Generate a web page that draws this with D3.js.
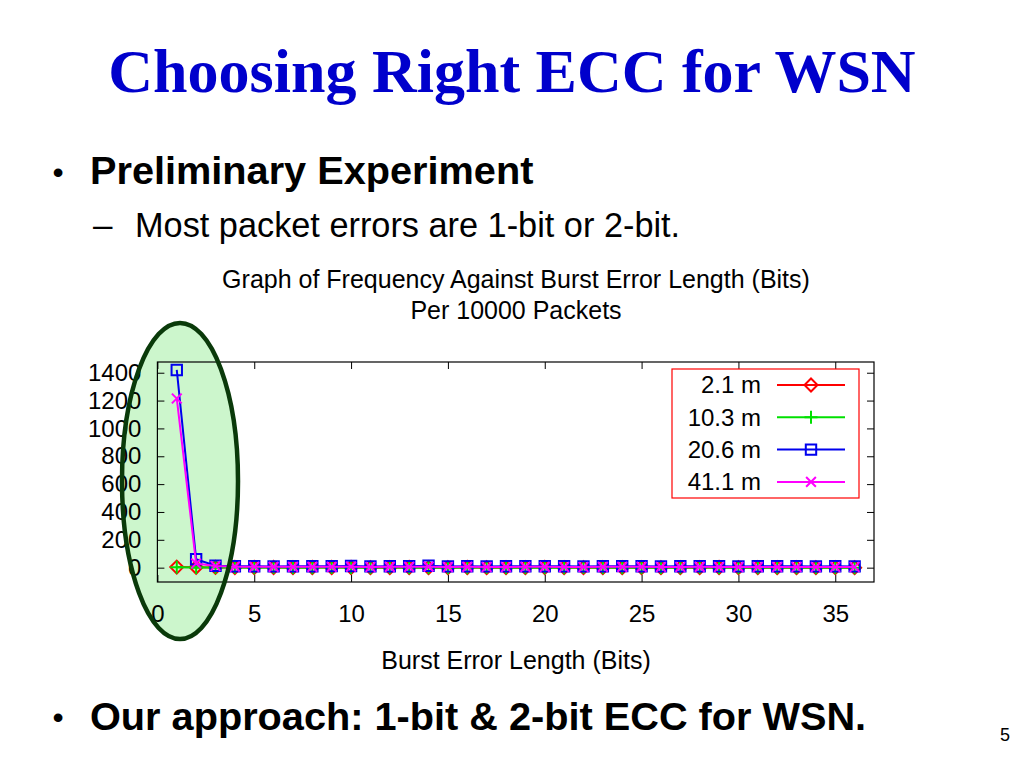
<!DOCTYPE html>
<html>
<head>
<meta charset="utf-8">
<script src="https://cdn.jsdelivr.net/npm/d3@7"></script>
<style>
  body { margin: 0; background: #fff; }
  svg { display: block; }
</style>
</head>
<body>
<div id="slide"></div>
<script>
// slide with a gnuplot-style line chart of burst error lengths

var width = 1024,
    height = 768;

// data (x = burst error length in bits)
var burstLen = d3.range(1, 37);
var seriesNames = ["2.1 m", "10.3 m", "20.6 m", "41.1 m"];
var seriesColors = ["#ff0000", "#00e000", "#0000ee", "#ff00ff"];
var seriesMarks = ["diamond", "plus", "square", "cross"];
var s2_1 = [4, 3, 2, 1, 1, 1, 0, 1, 1, 1, 0, 0, 1, 0, 0, 1, 0, 0, 0, 1, 0, 0, 0, 0, 0, 0, 0, 0, 1, 0, 0, 0, 0, 0, 0, 0];
var s10_3 = [3, 2, 1, 1, 0, 1, 0, 0, 1, 0, 0, 1, 0, 0, 0, 0, 1, 0, 0, 0, 0, 1, 0, 0, 0, 0, 0, 1, 0, 0, 0, 0, 0, 0, 0, 0];
var s20_6 = [1420, 60, 14, 10, 10, 9, 10, 10, 11, 12, 9, 10, 10, 14, 9, 10, 9, 10, 10, 10, 10, 9, 10, 11, 10, 9, 10, 10, 10, 9, 10, 10, 10, 9, 10, 9];
var s41_1 = [1215, 30, 12, 7, 6, 6, 6, 6, 6, 7, 5, 6, 6, 7, 5, 6, 5, 5, 6, 6, 5, 5, 6, 6, 6, 5, 5, 6, 5, 5, 5, 5, 5, 5, 5, 5];
var seriesValues = [s2_1, s10_3, s20_6, s41_1];
var xTicks = [0, 5, 10, 15, 20, 25, 30, 35];
var yTicks = [0, 200, 400, 600, 800, 1000, 1200, 1400];

var svg = d3.select("#slide").append("svg")
    .attr("width", width)
    .attr("height", height);

// slide title + bullets
svg.append("text")
    .attr("x", 512).attr("y", 92)
    .attr("text-anchor", "middle")
    .attr("font-family", "Liberation Serif, Times New Roman, serif")
    .attr("font-weight", "bold")
    .attr("font-size", 62)
    .attr("fill", "#0000cc")
    .text("Choosing Right ECC for WSN");

var sans = "Liberation Sans, Arial, Helvetica, sans-serif";

svg.append("text").attr("x", 58).attr("y", 183).attr("text-anchor", "middle")
    .attr("font-family", sans).attr("font-size", 32).text("•");
svg.append("text").attr("x", 90).attr("y", 184)
    .attr("font-family", sans).attr("font-weight", "bold").attr("font-size", 39.7)
    .text("Preliminary Experiment");
svg.append("text").attr("x", 93).attr("y", 237)
    .attr("font-family", sans).attr("font-size", 35).text("–");
svg.append("text").attr("x", 135).attr("y", 237)
    .attr("font-family", sans).attr("font-size", 34.3)
    .text("Most packet errors are 1-bit or 2-bit.");

svg.append("text").attr("x", 58).attr("y", 728).attr("text-anchor", "middle")
    .attr("font-family", sans).attr("font-size", 32).text("•");
svg.append("text").attr("x", 90).attr("y", 730)
    .attr("font-family", sans).attr("font-weight", "bold").attr("font-size", 39.7)
    .text("Our approach: 1-bit & 2-bit ECC for WSN.");

svg.append("text").attr("x", 1005).attr("y", 741).attr("text-anchor", "middle")
    .attr("font-family", sans).attr("font-size", 18).text("5");

// highlight ellipse (fill underneath the chart, outline on top)
var ell = { cx: 180, cy: 481, rx: 58, ry: 158 };
svg.append("ellipse")
    .attr("cx", ell.cx).attr("cy", ell.cy).attr("rx", ell.rx).attr("ry", ell.ry)
    .attr("fill", "#ccf6cc");

// chart
var plot = { left: 157.4, right: 874, top: 362, bottom: 582 };

var x = d3.scaleLinear().domain([0, 37]).range([plot.left, plot.right]);
var y = d3.scaleLinear().domain([-103, 1477]).range([plot.bottom, plot.top]);

var chart = svg.append("g")
    .attr("font-family", sans);

chart.append("text").attr("x", 516).attr("y", 288).attr("text-anchor", "middle")
    .attr("font-size", 25).text("Graph of Frequency Against Burst Error Length (Bits)");
chart.append("text").attr("x", 516).attr("y", 319).attr("text-anchor", "middle")
    .attr("font-size", 25).text("Per 10000 Packets");
chart.append("text").attr("x", 516).attr("y", 669).attr("text-anchor", "middle")
    .attr("font-size", 25).text("Burst Error Length (Bits)");

// axes, gnuplot style: ticks inward, mirrored
function styleAxis(g) {
  g.select(".domain").remove();
  g.selectAll(".tick line").attr("stroke", "#000").attr("stroke-width", 1);
  g.selectAll(".tick text").attr("font-family", sans).attr("font-size", 24).attr("fill", "#000");
}

chart.append("g")
    .attr("transform", "translate(0," + plot.bottom + ")")
    .call(d3.axisBottom(x).tickValues(xTicks).tickSize(-7).tickPadding(23))
    .call(styleAxis);
chart.append("g")
    .attr("transform", "translate(0," + plot.top + ")")
    .call(d3.axisTop(x).tickValues(xTicks).tickSize(-7).tickFormat(""))
    .call(styleAxis);
chart.append("g")
    .attr("transform", "translate(" + plot.left + ",0)")
    .call(d3.axisLeft(y).tickValues(yTicks).tickSize(-7).tickPadding(16).tickFormat(d3.format("d")))
    .call(styleAxis);
chart.append("g")
    .attr("transform", "translate(" + plot.right + ",0)")
    .call(d3.axisRight(y).tickValues(yTicks).tickSize(-7).tickFormat(""))
    .call(styleAxis);

chart.append("rect")
    .attr("x", plot.left).attr("y", plot.top)
    .attr("width", plot.right - plot.left).attr("height", plot.bottom - plot.top)
    .attr("fill", "none").attr("stroke", "#000").attr("stroke-width", 1.2);

// marker shapes
function markPath(type, s) {
  if (type == "diamond") return "M0," + (-s) + "L" + s + ",0L0," + s + "L" + (-s) + ",0Z";
  if (type == "plus") return "M" + (-s) + ",0H" + s + "M0," + (-s) + "V" + s;
  if (type == "square") return "M" + (-s * 0.8) + "," + (-s * 0.8) + "h" + (s * 1.6) + "v" + (s * 1.6) + "h" + (-s * 1.6) + "Z";
  return "M" + (-s * 0.75) + "," + (-s * 0.75) + "L" + (s * 0.75) + "," + (s * 0.75) + "M" + (-s * 0.75) + "," + (s * 0.75) + "L" + (s * 0.75) + "," + (-s * 0.75);
}

var line = d3.line()
    .x(function(d, i) { return x(burstLen[i]); })
    .y(function(d) { return y(d); });

seriesValues.forEach(function(vals, k) {
  var g = chart.append("g");
  g.append("path")
      .datum(vals)
      .attr("d", line)
      .attr("fill", "none")
      .attr("stroke", seriesColors[k])
      .attr("stroke-width", 2);
  g.selectAll("path.mark")
      .data(vals)
      .enter().append("path")
      .attr("class", "mark")
      .attr("transform", function(d, i) { return "translate(" + x(burstLen[i]) + "," + y(d) + ")"; })
      .attr("d", markPath(seriesMarks[k], 6.5))
      .attr("fill", "none")
      .attr("stroke", seriesColors[k])
      .attr("stroke-width", 2);
});

// legend
var legend = chart.append("g");
legend.append("rect")
    .attr("x", 672).attr("y", 369).attr("width", 187).attr("height", 129)
    .attr("fill", "#fff").attr("stroke", "#ff0000").attr("stroke-width", 1.2);

seriesNames.forEach(function(name, k) {
  var ly = 385 + k * 32.3;
  legend.append("text")
      .attr("x", 761).attr("y", ly).attr("dy", "0.35em")
      .attr("text-anchor", "end").attr("font-size", 24)
      .text(name);
  legend.append("line")
      .attr("x1", 777).attr("x2", 845).attr("y1", ly).attr("y2", ly)
      .attr("stroke", seriesColors[k]).attr("stroke-width", 2);
  legend.append("path")
      .attr("transform", "translate(811," + ly + ")")
      .attr("d", markPath(seriesMarks[k], 6.5))
      .attr("fill", "none")
      .attr("stroke", seriesColors[k])
      .attr("stroke-width", 2);
});

// ellipse outline drawn last
svg.append("ellipse")
    .attr("cx", ell.cx).attr("cy", ell.cy).attr("rx", ell.rx).attr("ry", ell.ry)
    .attr("fill", "none")
    .attr("stroke", "#0a3a0a")
    .attr("stroke-width", 4.5);
</script>
</body>
</html>
